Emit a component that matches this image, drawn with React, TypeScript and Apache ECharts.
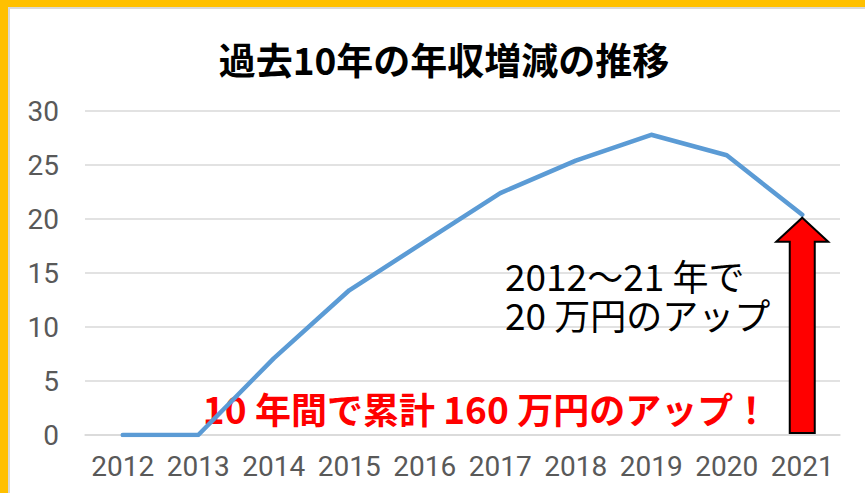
import React, { useEffect, useRef } from "react";
import * as echarts from "echarts";

const categories = ["2012", "2013", "2014", "2015", "2016", "2017", "2018", "2019", "2020", "2021"];
const incomeIncrease = [0, 0, 7.1, 13.4, 17.9, 22.4, 25.4, 27.8, 25.9, 20.4];
const yMin = 0;
const yMax = 30;
const yInterval = 5;

const titleText = "過去10年の年収増減の推移";
const noteLine1 = "{n|2012}{j|～}{n|21 }{j|年で}";
const noteLine2 = "{n|20 }{j|万円のアップ}";
const redNote = "{n|10 }{j|年間で累計}{n| 160 }{j|万円のアップ！}";

const NUM = "Roboto, 'Liberation Sans', sans-serif";
const CJK = "'Noto Sans CJK JP', 'Noto Sans', sans-serif";

export default function App() {
  const ref = useRef<HTMLDivElement>(null);

  useEffect(() => {
    document.body.style.margin = "0";
    const chart = echarts.init(ref.current!, null, { renderer: "svg" });
    chart.setOption({
      animation: false,
      backgroundColor: "#ffffff",
      title: {
        text: titleText,
        left: 439,
        textAlign: "center",
        top: 35,
        textStyle: { fontFamily: CJK, fontSize: 37, fontWeight: "bold", color: "#000000" },
      },
      grid: { left: 85, right: 25, top: 111, bottom: 58 },
      xAxis: {
        type: "category",
        data: categories,
        boundaryGap: true,
        axisLine: { show: true, lineStyle: { color: "#D9D9D9", width: 1.5 } },
        axisTick: { show: false },
        axisLabel: { color: "#595959", fontFamily: NUM, fontSize: 28, margin: 17, interval: 0 },
      },
      yAxis: {
        type: "value",
        min: yMin,
        max: yMax,
        interval: yInterval,
        axisLine: { show: false },
        axisTick: { show: false },
        splitLine: { lineStyle: { color: "#D9D9D9", width: 1.5 } },
        axisLabel: { color: "#595959", fontFamily: NUM, fontSize: 28, margin: 26 },
      },
      series: [
        {
          type: "line",
          data: incomeIncrease,
          symbol: "none",
          lineStyle: { color: "#5B9BD5", width: 4.5, cap: "round", join: "round" },
          z: 3,
        },
      ],
    });

    const last = incomeIncrease.length - 1;
    const tip = chart.convertToPixel({ xAxisIndex: 0, yAxisIndex: 0 }, [last, incomeIncrease[last]]) as number[];
    const base = chart.convertToPixel({ xAxisIndex: 0, yAxisIndex: 0 }, [last, 0]) as number[];
    const cx = tip[0];
    const tipY = tip[1] + 3;
    const headY = tipY + 24;
    const botY = base[1] - 2;
    const headHalf = 26;
    const shaftHalf = 12.5;

    const blackRich = {
      n: { fontFamily: CJK, fontSize: 37, fill: "#000000" },
      j: { fontFamily: CJK, fontSize: 36, fill: "#000000" },
    };

    chart.setOption({
      graphic: [
        { type: "rect", shape: { x: 0, y: 0, width: 865, height: 7 }, style: { fill: "#FFC000" }, z: 10 },
        { type: "rect", shape: { x: 0, y: 0, width: 8, height: 493 }, style: { fill: "#FFC000" }, z: 10 },
        { type: "rect", shape: { x: 8, y: 7, width: 857, height: 2 }, style: { fill: "#D9D9D9" }, z: 10 },
        { type: "rect", shape: { x: 8, y: 7, width: 2, height: 486 }, style: { fill: "#D9D9D9" }, z: 10 },
        {
          type: "polygon",
          shape: {
            points: [
              [cx, tipY],
              [cx + headHalf, headY],
              [cx + shaftHalf, headY],
              [cx + shaftHalf, botY],
              [cx - shaftHalf, botY],
              [cx - shaftHalf, headY],
              [cx - headHalf, headY],
            ],
          },
          style: { fill: "#FF0000", stroke: "#000000", lineWidth: 2 },
          z: 5,
        },
        {
          type: "text",
          x: 505,
          y: 275,
          style: { text: noteLine1, fill: "#000000", verticalAlign: "middle", rich: blackRich },
          z: 6,
        },
        {
          type: "text",
          x: 505,
          y: 314,
          style: { text: noteLine2, fill: "#000000", verticalAlign: "middle", rich: blackRich },
          z: 6,
        },
        {
          type: "text",
          x: 486,
          y: 408,
          style: {
            text: redNote,
            fill: "#FF0000",
            align: "center",
            verticalAlign: "middle",
            rich: {
              n: { fontFamily: CJK, fontSize: 37, fontWeight: "bold", fill: "#FF0000" },
              j: { fontFamily: CJK, fontSize: 36, fontWeight: "bold", fill: "#FF0000" },
            },
          },
          z: 2,
        },
      ],
    });

    return () => chart.dispose();
  }, []);

  return (
    <div
      ref={ref}
      style={{ position: "fixed", left: 0, top: 0, width: 865, height: 493 }}
    />
  );
}
